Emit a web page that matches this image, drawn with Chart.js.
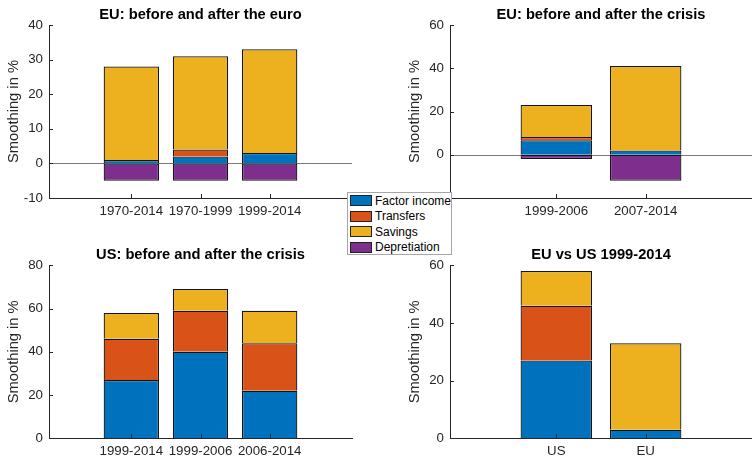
<!DOCTYPE html>
<html>
<head>
<meta charset="utf-8">
<title>Consumption smoothing channels</title>
<script src="https://cdn.jsdelivr.net/npm/chart.js@4"></script>
<style>
  html, body { margin: 0; padding: 0; background: #fff; }
  #wrap { position: relative; width: 752px; height: 458px; overflow: hidden; background: #fff; }
  #wrap canvas { position: absolute; left: 0; top: 0; }
  #legend {
    position: absolute; left: 347px; top: 192px; width: 103px; height: 61px;
    border: 1px solid #a6a6a6; background: #fff;
    font: 12px "Liberation Sans", Arial, sans-serif; color: #000;
  }
  #legend .row { position: absolute; left: 2px; height: 15.5px; display: flex; align-items: center; white-space: nowrap; }
  #legend .sw { width: 20px; height: 9px; border: 1px solid #222; margin-right: 3px; }
</style>
</head>
<body>
<div id="wrap">
  <canvas id="euro" width="752" height="458"></canvas>
  <canvas id="euCrisis" width="752" height="458"></canvas>
  <canvas id="usCrisis" width="752" height="458"></canvas>
  <canvas id="euUs" width="752" height="458"></canvas>
  <div id="legend"></div>
</div>
<script>
// Smoothing channels (percent of shock absorbed)
const seriesNames  = ['Factor income', 'Transfers', 'Savings', 'Depretiation'];
const seriesColors = ['#0072BD', '#D95319', '#EDB120', '#7E2F8E'];

// EU: before and after the euro
const euroCats         = ['1970-2014', '1970-1999', '1999-2014'];
const euroFactor       = [1, 2, 3];
const euroTransfers    = [0, 2, 0];
const euroSavings      = [27, 27, 30];
const euroDepreciation = [-5, -5, -5];
const euroTicks        = [-10, 0, 10, 20, 30, 40];

// EU: before and after the crisis
const euCrisisCats         = ['1999-2006', '2007-2014'];
const euCrisisFactor       = [6.7, 2];
const euCrisisTransfers    = [1.5, 0];
const euCrisisSavings      = [14.8, 39];
const euCrisisDepreciation = [-2, -12];
const euCrisisTicks        = [0, 20, 40, 60];

// US: before and after the crisis
const usCrisisCats         = ['1999-2014', '1999-2006', '2006-2014'];
const usCrisisFactor       = [27, 40, 22];
const usCrisisTransfers    = [19, 19, 22];
const usCrisisSavings      = [12, 10, 15];
const usCrisisDepreciation = [0, 0, 0];
const usCrisisTicks        = [0, 20, 40, 60, 80];

// EU vs US 1999-2014
const euUsCats         = ['US', 'EU'];
const euUsFactor       = [27, 3];
const euUsTransfers    = [19, 0];
const euUsSavings      = [12, 30];
const euUsDepreciation = [0, 0];
const euUsTicks        = [0, 20, 40, 60];

const FONT = '"Liberation Sans", Arial, Helvetica, sans-serif';
const AXIS_COLOR = '#262626';
const Y_AXIS_W = 49;
const X_AXIS_H = 19;
const TITLE_SIZE = 14.7;
const TITLE_PAD_BOTTOM = 1.66;

// zero reference line behind the bars
const zeroLine = {
  id: 'zeroLine',
  beforeDatasetsDraw(chart) {
    const y = chart.scales.y, a = chart.chartArea;
    if (y.min >= 0) return;
    const py = Math.round(y.getPixelForValue(0)) + 0.5;
    const ctx = chart.ctx;
    ctx.save();
    ctx.strokeStyle = '#7a7a7a';
    ctx.lineWidth = 1;
    ctx.beginPath();
    ctx.moveTo(a.left, py);
    ctx.lineTo(a.right, py);
    ctx.stroke();
    ctx.restore();
  }
};

// short tick marks pointing into the plot area
const innerTicks = {
  id: 'innerTicks',
  afterDraw(chart) {
    const ctx = chart.ctx, a = chart.chartArea;
    const xs = chart.scales.x, ys = chart.scales.y;
    ctx.save();
    ctx.strokeStyle = AXIS_COLOR;
    ctx.lineWidth = 1;
    ctx.beginPath();
    ys.ticks.forEach(t => {
      const py = Math.round(ys.getPixelForValue(t.value)) + 0.5;
      ctx.moveTo(a.left, py);
      ctx.lineTo(a.left + 4, py);
    });
    xs.ticks.forEach(t => {
      const px = Math.round(xs.getPixelForValue(t.value)) + 0.5;
      ctx.moveTo(px, a.bottom);
      ctx.lineTo(px, a.bottom - 4);
    });
    ctx.stroke();
    ctx.restore();
  }
};

function panel(id, p) {
  const series = [p.factor, p.transfers, p.savings, p.depreciation];
  const datasets = series.map((vals, k) => ({
    label: seriesNames[k],
    data: vals.map((v, i) => ({ x: i + 1, y: v })),
    backgroundColor: seriesColors[k],
    borderColor: '#141414',
    borderWidth: 1.25,
    borderSkipped: k === 3 ? false : 'start',
    barPercentage: 0.8,
    categoryPercentage: 1.0
  }));
  const n = p.cats.length;
  return new Chart(document.getElementById(id), {
    type: 'bar',
    data: { datasets },
    options: {
      responsive: false,
      animation: false,
      devicePixelRatio: 1,
      events: [],
      layout: {
        padding: {
          left: p.area.left - Y_AXIS_W,
          right: 752 - p.area.right,
          top: p.area.top - TITLE_SIZE * 1.2 - TITLE_PAD_BOTTOM,
          bottom: 458 - p.area.bottom - X_AXIS_H
        }
      },
      plugins: {
        legend: { display: false },
        tooltip: { enabled: false },
        title: {
          display: true,
          text: p.title,
          fullSize: false,
          color: '#000',
          font: { family: FONT, size: TITLE_SIZE, weight: 'bold', lineHeight: 1.2 },
          padding: { top: 0, bottom: TITLE_PAD_BOTTOM }
        }
      },
      scales: {
        x: {
          type: 'linear',
          stacked: true,
          offset: false,
          bounds: 'data',
          min: -0.19,
          max: n + 1.19,
          grid: { display: false, drawTicks: false, offset: false },
          border: { display: true, color: AXIS_COLOR, width: 1 },
          afterBuildTicks: s => { s.ticks = p.cats.map((c, i) => ({ value: i + 1 })); },
          afterFit: s => { s.height = X_AXIS_H; },
          ticks: {
            autoSkip: false,
            maxRotation: 0,
            padding: 5,
            color: AXIS_COLOR,
            font: { family: FONT, size: 13.3 },
            callback: v => p.cats[v - 1] ?? ''
          }
        },
        y: {
          stacked: true,
          min: p.yMin,
          max: p.yMax,
          grid: { display: false, drawTicks: false },
          border: { display: true, color: AXIS_COLOR, width: 1 },
          afterBuildTicks: s => { s.ticks = p.yTicks.map(v => ({ value: v })); },
          afterFit: s => { s.width = Y_AXIS_W; },
          ticks: {
            padding: 6,
            color: AXIS_COLOR,
            font: { family: FONT, size: 13.3 },
            callback: v => String(v)
          },
          title: {
            display: true,
            text: 'Smoothing in %',
            color: AXIS_COLOR,
            font: { family: FONT, size: 14.7, lineHeight: 1.2 },
            padding: { top: 5.2, bottom: 0 }
          }
        }
      }
    },
    plugins: [zeroLine, innerTicks]
  });
}

panel('euro', {
  title: 'EU: before and after the euro',
  cats: euroCats, factor: euroFactor, transfers: euroTransfers,
  savings: euroSavings, depreciation: euroDepreciation,
  yMin: -10, yMax: 40, yTicks: euroTicks,
  area: { left: 49, right: 352, top: 25, bottom: 198 }
});
panel('euCrisis', {
  title: 'EU: before and after the crisis',
  cats: euCrisisCats, factor: euCrisisFactor, transfers: euCrisisTransfers,
  savings: euCrisisSavings, depreciation: euCrisisDepreciation,
  yMin: -20, yMax: 60, yTicks: euCrisisTicks,
  area: { left: 450, right: 752, top: 25, bottom: 198 }
});
panel('usCrisis', {
  title: 'US: before and after the crisis',
  cats: usCrisisCats, factor: usCrisisFactor, transfers: usCrisisTransfers,
  savings: usCrisisSavings, depreciation: usCrisisDepreciation,
  yMin: 0, yMax: 80, yTicks: usCrisisTicks,
  area: { left: 49, right: 352, top: 265.3, bottom: 438.3 }
});
panel('euUs', {
  title: 'EU vs US 1999-2014',
  cats: euUsCats, factor: euUsFactor, transfers: euUsTransfers,
  savings: euUsSavings, depreciation: euUsDepreciation,
  yMin: 0, yMax: 60, yTicks: euUsTicks,
  area: { left: 450, right: 752, top: 265.3, bottom: 438.3 }
});

// shared legend
const legend = document.getElementById('legend');
seriesNames.forEach((name, k) => {
  const row = document.createElement('div');
  row.className = 'row';
  row.style.top = (k * 15.5) + 'px';
  const sw = document.createElement('span');
  sw.className = 'sw';
  sw.style.background = seriesColors[k];
  const label = document.createElement('span');
  label.textContent = name;
  row.appendChild(sw);
  row.appendChild(label);
  legend.appendChild(row);
});
</script>
</body>
</html>
